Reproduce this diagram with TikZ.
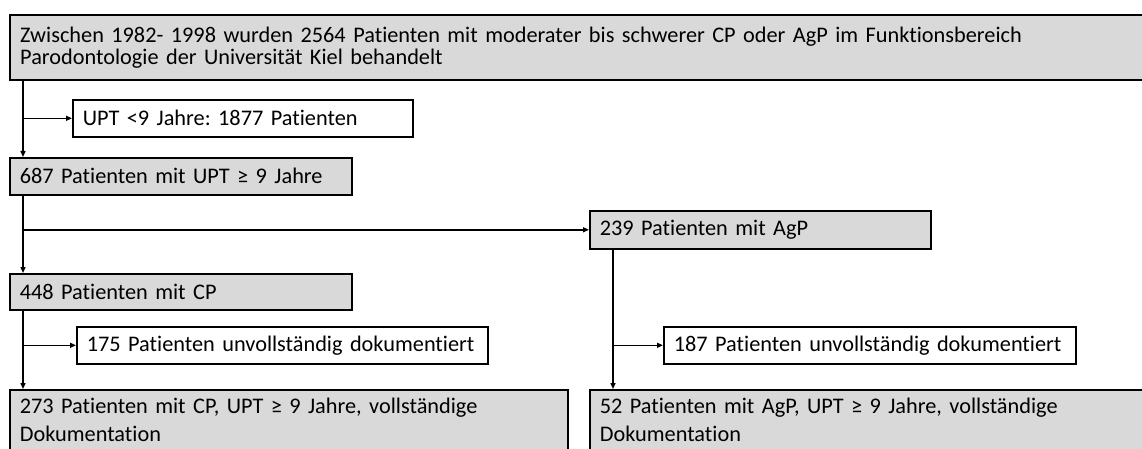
\documentclass[tikz,border=0pt]{standalone}
\usepackage{fontspec}
\setmainfont{Carlito}[Ligatures=NoCommon]
\usetikzlibrary{arrows.meta}
\definecolor{boxgray}{HTML}{D9D9D9}
\frenchspacing
\hyphenpenalty=10000
\exhyphenpenalty=10000
\tikzset{
  box/.style={draw=black, line width=1.6pt, anchor=north west, align=left,
    inner xsep=10pt, inner ysep=0pt, font=\fontsize{22.3}{22}\selectfont},
  graybox/.style={box, fill=boxgray},
  whitebox/.style={box, fill=white},
  arr/.style={draw=black, line width=1.4pt, -{Triangle[length=6pt,width=5pt]}},
}
\begin{document}
\begin{tikzpicture}[x=1pt,y=-1pt]
\useasboundingbox (0,0) rectangle (1142,449);
\clip (0,0) rectangle (1142,449);
\fill[white] (0,0) rectangle (1142,449);

\node[graybox, line width=2.4pt, minimum width=1150pt, minimum height=65pt, text width=1130pt] (top) at (9,14)
  {Zwischen 1982- 1998 wurden 2564 Patienten mit moderater bis schwerer CP oder AgP im Funktionsbereich\\
   Parodontologie der Universität Kiel behandelt};

\node[whitebox, minimum width=340pt, minimum height=37pt, text width=320pt] (upt) at (72,99)
  {UPT <9 Jahre: 1877 Patienten};

\node[graybox, minimum width=342pt, minimum height=37pt, text width=322pt] (n687) at (9,157)
  {687 Patienten mit UPT ≥ 9 Jahre};

\node[graybox, minimum width=341pt, minimum height=38pt, text width=321pt] (agp) at (589,210)
  {239 Patienten mit AgP};

\node[graybox, minimum width=342pt, minimum height=36pt, text width=322pt] (cp) at (9,273)
  {448 Patienten mit CP};

\node[whitebox, minimum width=411pt, minimum height=37pt, text width=391pt] (inc1) at (76,326)
  {\mbox{175 Patienten unvollständig dokumentiert}};

\node[whitebox, minimum width=412pt, minimum height=37pt, text width=392pt] (inc2) at (663,326)
  {\mbox{187 Patienten unvollständig dokumentiert}};

\node[graybox, inner ysep=8.5pt, minimum width=558pt, text width=538pt,
      font=\fontsize{22.3}{28}\selectfont] (res1) at (9,389)
  {273 Patienten mit CP, UPT ≥ 9 Jahre, vollständige\\Dokumentation};

\node[graybox, inner ysep=8.5pt, minimum width=600pt, text width=580pt,
      font=\fontsize{22.3}{28}\selectfont] (res2) at (589,389)
  {52 Patienten mit AgP, UPT ≥ 9 Jahre, vollständige\\Dokumentation};

\coordinate (spine) at (23,0);
\coordinate (spine2) at (613,0);

\draw[arr] (top.south -| spine) -- (n687.north -| spine);
\draw[arr] (upt.west -| spine) -- (upt.west);
\draw[arr] (n687.south -| spine) -- (cp.north -| spine);
\draw[arr] (agp.west -| spine) -- (agp.west);
\draw[arr] (cp.south -| spine) -- (res1.north -| spine);
\draw[arr] (inc1.west -| spine) -- (inc1.west);
\draw[arr] (agp.south -| spine2) -- (res2.north -| spine2);
\draw[arr] (inc2.west -| spine2) -- (inc2.west);
\end{tikzpicture}
\end{document}
